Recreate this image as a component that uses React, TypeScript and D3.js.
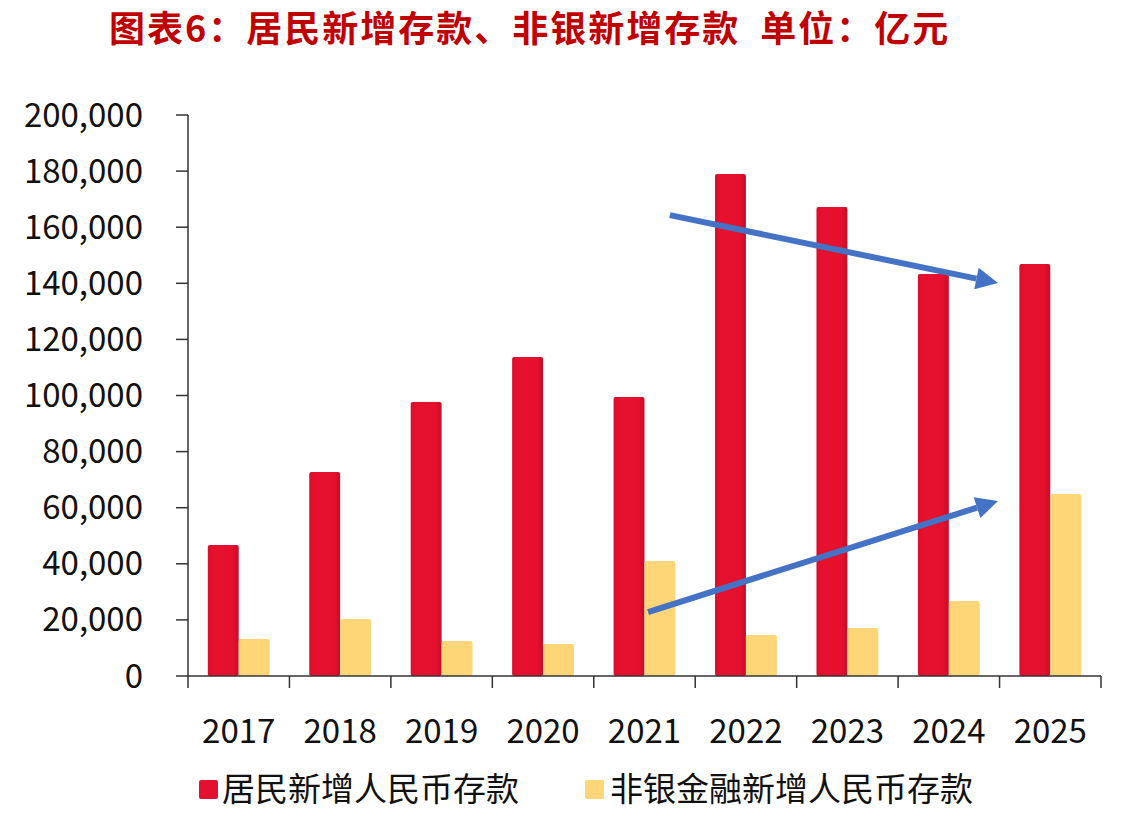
import * as d3 from "d3";

const years = ["2017", "2018", "2019", "2020", "2021", "2022", "2023", "2024", "2025"];
const household = [46700, 72700, 97700, 113700, 99500, 179000, 167200, 143300, 146900];
const nonBank = [13200, 20300, 12500, 11400, 41000, 14600, 17100, 26700, 64900];
const seriesNames = ["居民新增人民币存款", "非银金融新增人民币存款"];
const yTicks = [0, 20000, 40000, 60000, 80000, 100000, 120000, 140000, 160000, 180000, 200000];
const titleMain = "图表6：居民新增存款、非银新增存款";
const titleUnit = "单位：亿元";

// trend arrows, in (category index, value) units
const arrows = [
  { from: [4.75, 164300], to: [7.985, 140100] },
  { from: [4.535, 22800], to: [7.985, 62400] },
];

const W = 1122;
const H = 816;
const margin = { top: 115, right: 21, bottom: 140, left: 188 };
const font = "'Noto Sans CJK SC', 'Noto Sans', sans-serif";

export default function App() {
  const x = d3
    .scaleBand()
    .domain(years)
    .range([margin.left, W - margin.right])
    .padding(0);
  const inner = d3
    .scaleBand()
    .domain(seriesNames)
    .range([0, x.bandwidth()])
    .paddingInner(0)
    .paddingOuter(0.64);
  const y = d3
    .scaleLinear()
    .domain([0, 200000])
    .range([H - margin.bottom, margin.top]);
  const xi = d3
    .scaleLinear()
    .domain([0, years.length])
    .range([margin.left, W - margin.right]);
  const fmt = d3.format(",");
  const y0 = y(0);

  const arrowPath = (a: { from: number[]; to: number[] }) => {
    const x1 = xi(a.from[0]), y1 = y(a.from[1]);
    const x2 = xi(a.to[0]), y2 = y(a.to[1]);
    const ang = Math.atan2(y2 - y1, x2 - x1);
    const len = 22, half = 11;
    const bx = x2 - len * Math.cos(ang), by = y2 - len * Math.sin(ang);
    const px = -Math.sin(ang), py = Math.cos(ang);
    return {
      line: [x1, y1, bx, by],
      head: `M${x2},${y2}L${bx + half * px},${by + half * py}L${bx - half * px},${by - half * py}Z`,
    };
  };

  return (
    <svg
      width={W}
      height={H}
      style={{ position: "absolute", left: 0, top: 0, background: "#fff" }}
      fontFamily={font}
    >
      <defs>
        <linearGradient id="redg" x1="0" x2="1" y1="0" y2="0">
          <stop offset="0" stopColor="#d90f2c" />
          <stop offset="0.2" stopColor="#e6112f" />
          <stop offset="0.8" stopColor="#e5102e" />
          <stop offset="1" stopColor="#c70d28" />
        </linearGradient>
      </defs>
      <rect width={W} height={H} fill="#fff" />
      <text x={109} y={42} fontSize={36} fontWeight="bold" fill="#c00000" letterSpacing={2}>
        <tspan>{titleMain}</tspan>
        <tspan dx={20}>{titleUnit}</tspan>
      </text>

      {/* bars */}
      {years.map((yr, i) => (
        <g key={yr} transform={`translate(${x(yr)},0)`}>
          <rect
            x={inner(seriesNames[0])}
            y={y(household[i])}
            width={inner.bandwidth()}
            height={y0 - y(household[i])}
            rx={2}
            fill="url(#redg)"
          />
          <rect
            x={inner(seriesNames[1])}
            y={y(nonBank[i])}
            width={inner.bandwidth()}
            height={y0 - y(nonBank[i])}
            rx={2}
            fill="#fed577"
          />
        </g>
      ))}

      {/* y axis */}
      <line x1={margin.left} x2={margin.left} y1={margin.top} y2={y0} stroke="#333" strokeWidth={1.5} />
      {yTicks.map((t) => (
        <g key={t}>
          <line x1={margin.left - 12} x2={margin.left} y1={y(t)} y2={y(t)} stroke="#333" strokeWidth={1.5} />
          <text x={143} y={y(t)} dy="0.35em" textAnchor="end" fontSize={33} fill="#111">
            {fmt(t)}
          </text>
        </g>
      ))}

      {/* x axis */}
      <line x1={margin.left} x2={W - margin.right} y1={y0} y2={y0} stroke="#333" strokeWidth={1.5} />
      {d3.range(years.length + 1).map((k) => (
        <line key={k} x1={xi(k)} x2={xi(k)} y1={y0} y2={y0 + 12} stroke="#333" strokeWidth={1.5} />
      ))}
      {years.map((yr) => (
        <text key={yr} x={x(yr)! + x.bandwidth() / 2} y={743} textAnchor="middle" fontSize={33} fill="#111">
          {yr}
        </text>
      ))}

      {/* arrows */}
      {arrows.map((a, i) => {
        const p = arrowPath(a);
        return (
          <g key={i}>
            <line x1={p.line[0]} y1={p.line[1]} x2={p.line[2]} y2={p.line[3]} stroke="#4472c4" strokeWidth={6} />
            <path d={p.head} fill="#4472c4" />
          </g>
        );
      })}

      {/* legend */}
      <rect x={199} y={780} width={19} height={19} rx={2} fill="#e3112f" />
      <text x={222} y={801} fontSize={33} fill="#111">{seriesNames[0]}</text>
      <rect x={585} y={780} width={19} height={19} rx={2} fill="#fed577" />
      <text x={610} y={801} fontSize={33} fill="#111">{seriesNames[1]}</text>
    </svg>
  );
}
